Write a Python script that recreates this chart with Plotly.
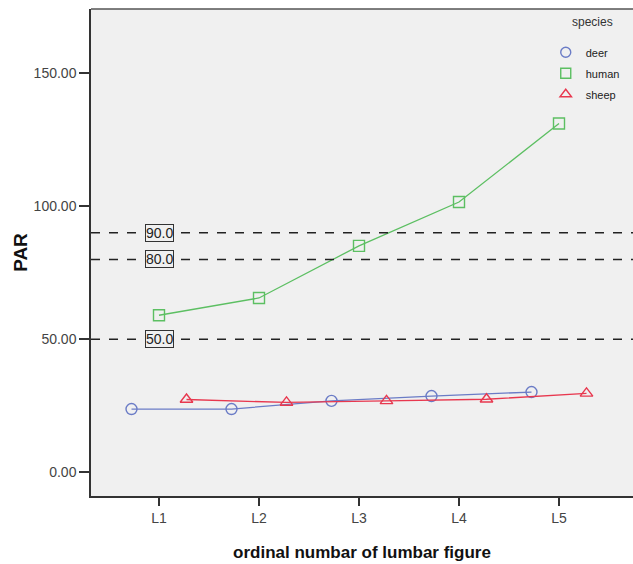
import plotly.graph_objects as go

categories = ["L1", "L2", "L3", "L4", "L5"]
deer = [23.7, 23.7, 26.8, 28.6, 30.1]
human = [59.0, 65.5, 85.1, 101.6, 131.1]
sheep = [27.3, 26.2, 26.8, 27.4, 29.6]
ref_lines = [90.0, 80.0, 50.0]
y_ticks = [0, 50, 100, 150]

series = [
    ("deer", deer, -0.275, "#6b7cc6", "circle-open"),
    ("human", human, 0.0, "#5cbf62", "square-open"),
    ("sheep", sheep, 0.275, "#e8384f", "triangle-up-open"),
]

FONT = "Liberation Sans, Arial, sans-serif"
fig = go.Figure()
idx = list(range(len(categories)))
for name, vals, off, col, sym in series:
    fig.add_trace(go.Scatter(
        x=[i + off for i in idx], y=vals, name=name, mode="lines+markers",
        line=dict(color=col, width=1.3), showlegend=False,
        marker=dict(symbol=sym, size=11, color=col, line=dict(color=col, width=1.4)),
    ))
# legend-only entries (marker symbol only)
for name, vals, off, col, sym in series:
    fig.add_trace(go.Scatter(
        x=[None], y=[None], name=name, mode="markers", legendgroup=name,
        marker=dict(symbol=sym, size=10, color=col, line=dict(color=col, width=1.4)),
    ))

for v in ref_lines:
    fig.add_shape(type="line", xref="paper", x0=0, x1=1, yref="y", y0=v, y1=v,
                  line=dict(color="#222222", width=1.5, dash="dash"))
    fig.add_annotation(x=0, y=v, xref="x", yref="y", text=f"{v:.1f}", showarrow=False,
                       font=dict(family=FONT, size=14, color="#222222"),
                       bgcolor="#f0f0f0", bordercolor="#333333", borderwidth=1, borderpad=0)

fig.add_annotation(x=0.925, y=0.974, xref="paper", yref="paper", text="species",
                   showarrow=False, xanchor="center", yanchor="middle",
                   font=dict(family=FONT, size=12, color="#333333"))

fig.update_layout(
    width=633, height=564,
    margin=dict(l=91, r=0, t=9, b=68),
    paper_bgcolor="white", plot_bgcolor="#f0f0f0",
    font=dict(family=FONT, color="#444444"),
    legend=dict(
        x=0.839, xanchor="left", y=0.941, yanchor="top",
        bgcolor="rgba(0,0,0,0)", font=dict(family=FONT, size=11, color="#222222"),
        itemwidth=30, tracegroupgap=2,
    ),
    xaxis=dict(
        range=[-0.68, 4.74], tickvals=idx, ticktext=categories,
        showgrid=False, zeroline=False, showline=True, linecolor="#333333", linewidth=1.5,
        ticks="outside", ticklen=8, tickcolor="#333333", tickwidth=1.5,
        tickfont=dict(family=FONT, size=14, color="#444444"),
        title=dict(text="<b>ordinal numbar of lumbar figure</b>", standoff=22,
                   font=dict(family=FONT, size=17, color="#111111")),
    ),
    yaxis=dict(
        range=[-9.0, 174.2], tickvals=y_ticks, tickformat=".2f",
        showgrid=False, zeroline=False, showline=True, linecolor="#333333", linewidth=1.5,
        mirror=False, ticks="outside", ticklen=10, tickcolor="#333333", tickwidth=1.5,
        tickfont=dict(family=FONT, size=14, color="#444444"),
        title=dict(text="<b>PAR</b>", standoff=1,
                   font=dict(family=FONT, size=19, color="#111111")),
    ),
)
# top border of plot area
fig.add_shape(type="line", xref="paper", yref="paper", x0=0, x1=1, y0=1, y1=1,
              line=dict(color="#555555", width=1.5))

fig.write_html("out.html", config={"displayModeBar": False},
               post_script="document.body.style.margin='0';")
